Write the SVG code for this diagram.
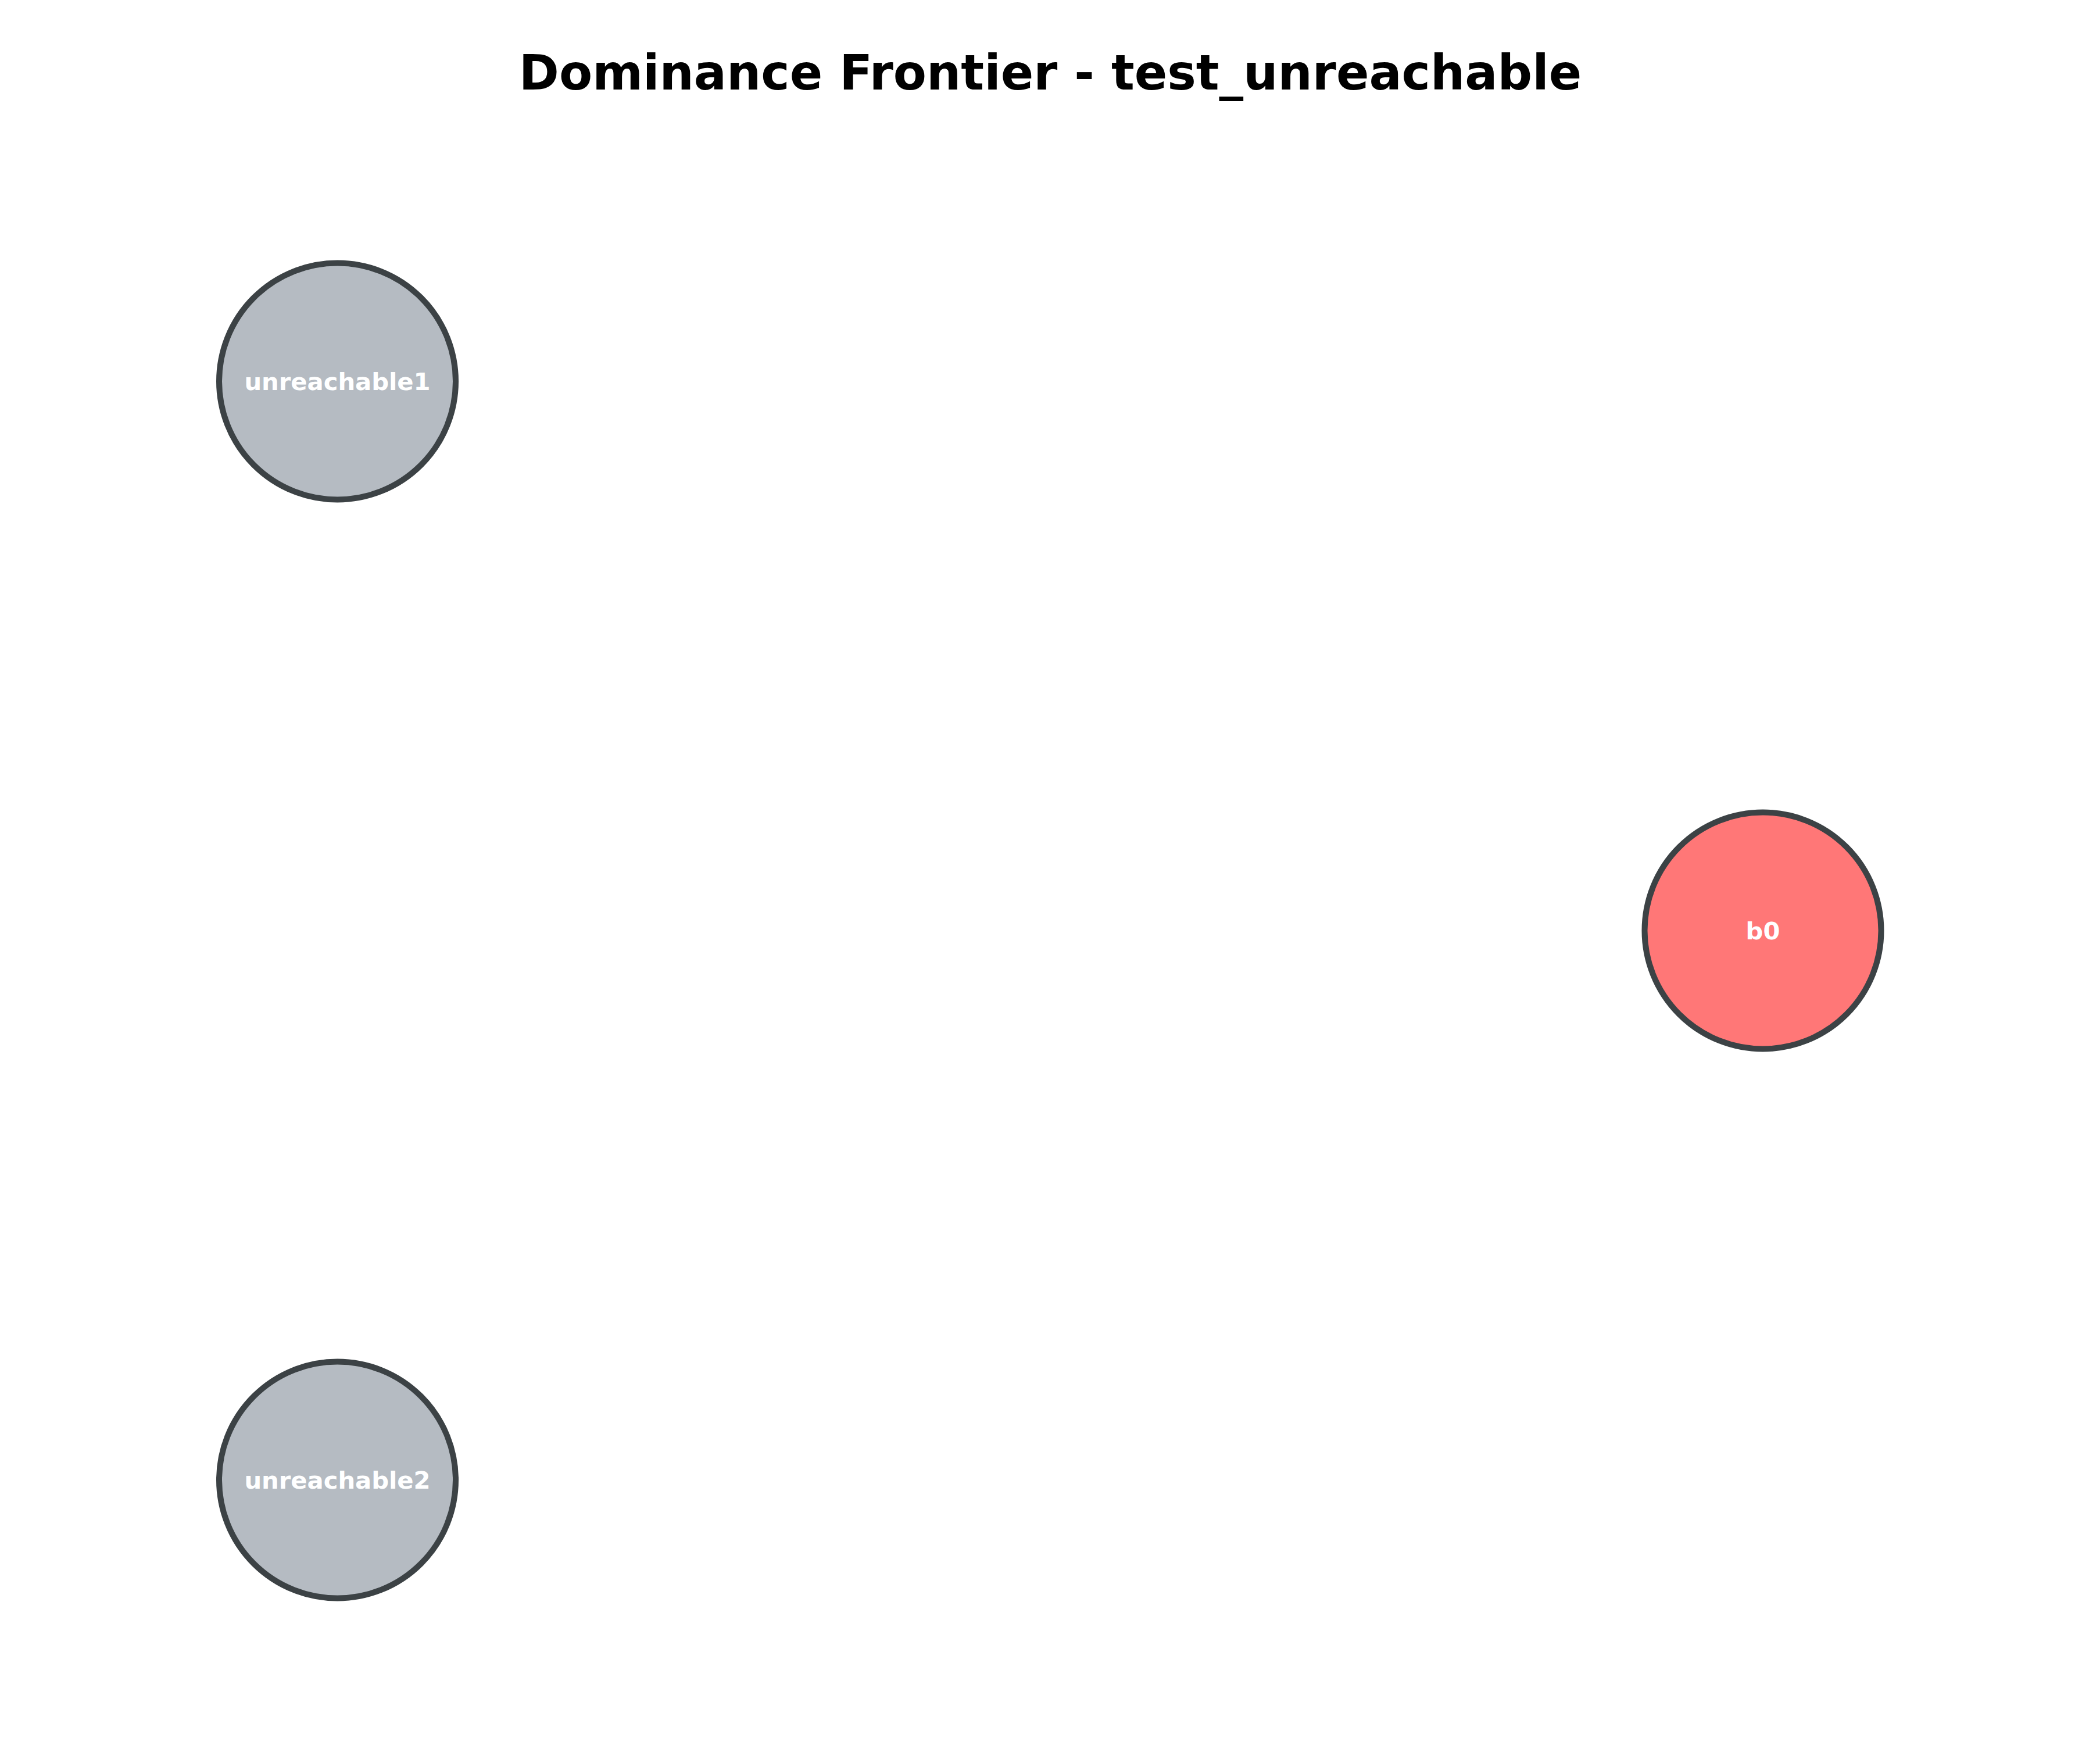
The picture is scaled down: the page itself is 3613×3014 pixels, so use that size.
<svg xmlns="http://www.w3.org/2000/svg" width="3613" height="3014" viewBox="0 0 3613 3014">
<style>
.title{font-family:"DejaVu Sans",sans-serif;font-weight:bold;font-size:83.3px;fill:#000;text-anchor:middle}
.node{stroke:#3c4245;stroke-width:10}
.lbl{font-family:"DejaVu Sans",sans-serif;font-weight:bold;font-size:41.7px;fill:#fff;text-anchor:middle}
.gray{fill:#b5bbc2}
.red{fill:#ff7777}
</style>
<rect width="3613" height="3014" fill="#fff"/>
<text class="title" x="1807" y="154">Dominance Frontier - test_unreachable</text>
<g id="connectors"></g>
<g id="node-unreachable1">
<circle class="node gray" cx="580.5" cy="656" r="203.5"/>
<text class="lbl" x="580.5" y="671">unreachable1</text>
</g>
<g id="node-b0">
<circle class="node red" cx="3033" cy="1601" r="203.5"/>
<text class="lbl" x="3033" y="1616">b0</text>
</g>
<g id="node-unreachable2">
<circle class="node gray" cx="580.5" cy="2546" r="203.5"/>
<text class="lbl" x="580.5" y="2561">unreachable2</text>
</g>
</svg>
